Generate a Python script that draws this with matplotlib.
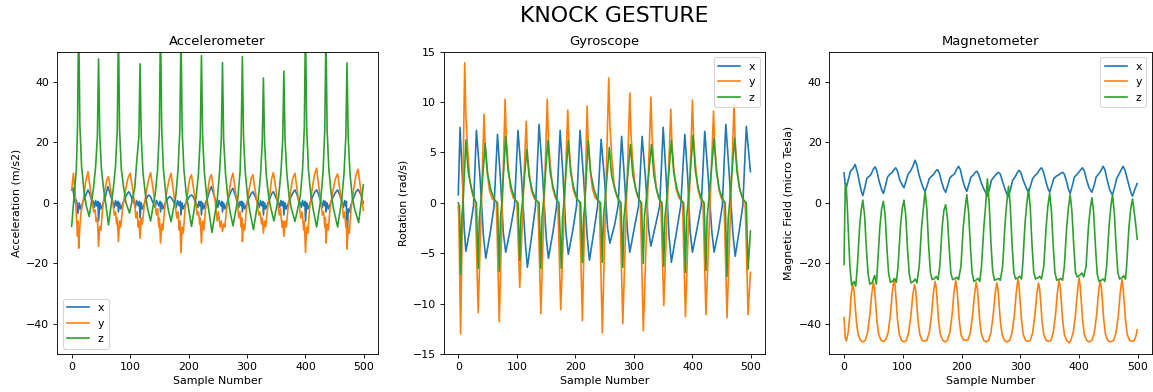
import matplotlib
matplotlib.use('Agg')
import matplotlib.pyplot as plt

# ---------------- Accelerometer (m/s2) ----------------
acc_x_s = [0, 2, 4, 6, 8, 10, 11, 13, 15, 18, 22, 25,
           28, 31, 34, 37, 39, 41, 43, 45, 46, 48, 50, 53, 57, 60,
           62, 65, 68, 71, 73, 75, 77, 79, 80, 82, 84, 87, 91, 95,
           98, 101, 104, 107, 109, 111, 114, 116, 117, 119, 121, 124, 127, 130,
           132, 135, 138, 141, 143, 145, 149, 151, 152, 154, 156, 159, 163, 166,
           168, 171, 174, 177, 179, 181, 184, 186, 187, 189, 191, 194, 198, 202,
           205, 208, 211, 214, 216, 218, 219, 221, 222, 224, 226, 229, 233, 236,
           239, 242, 245, 248, 250, 252, 255, 257, 258, 260, 262, 265, 269, 273,
           276, 279, 282, 284, 286, 288, 290, 291, 292, 294, 296, 299, 303, 307,
           310, 313, 316, 319, 321, 323, 325, 327, 328, 330, 332, 335, 339, 342,
           345, 348, 351, 354, 356, 358, 360, 362, 363, 365, 367, 370, 374, 378,
           382, 385, 388, 391, 393, 395, 397, 399, 400, 402, 404, 407, 411, 415,
           419, 422, 425, 427, 429, 431, 433, 434, 435, 437, 439, 442, 446, 451,
           455, 458, 461, 463, 465, 467, 469, 470, 471, 473, 475, 478, 482, 486,
           490, 494, 499]
acc_x_v = [4.3, 5, 2, 0, 1, -1, -3.4, 0, -2, -0.5, 1.5, 3,
           4.3, 3, 1, 0.5, -1.5, 0.8, -1, 0.5, -6, 0, -2, -0.5, 1.5, 4,
           5.4, 3.5, 1.5, 0, -1.5, 0.8, -1, 0.5, -3, 0, -2, -0.5, 1.5, 3,
           3.7, 2.5, 1, 0, -1.5, 0.8, -1, 0.5, -5, 0, -2, -0.5, 1, 2.2,
           2.6, 2, 0.5, -0.5, -1.5, 0.8, -1, 0.5, -3, 0, -2, -0.5, 1, 1.8,
           2.1, 1.5, 0.5, -0.5, -1.5, 0.8, -1, 0.5, -4, 0, -2, -0.5, 1, 2.2,
           2.6, 2, 0.5, -0.5, -1.5, 0.5, -1, 0.5, -4, 0, -2, 0, 2, 4,
           5.4, 3.5, 1.5, 0, -1.5, 0.8, -1, 0.5, -3, 0, -2, -0.5, 2, 4,
           4.8, 3, 1, 0, -1.5, 0.5, -1, 0.5, -3, 0, -2, -0.5, 1.5, 3,
           3.7, 2.5, 1, 0, -1.5, 0.8, -1, 0.5, -4, 0, -2, -0.5, 1.5, 3,
           3.7, 2.5, 1, 0, -1.5, 0.8, -1, 0.5, -4, 0, -2, -0.5, 1.5, 3.2,
           4.3, 3, 1, 0, -1.5, 0.8, -1, 0.5, -6, 0, -2, -0.5, 1.5, 3.3,
           4.3, 3, 1, 0, -1.5, 0.8, -1, 0.5, -3, 0, -2, -0.5, 1.5, 3.3,
           4.3, 3, 1, 0, -1.5, 0.8, -1, 0.5, -15, -2, -3, -0.5, 1.5, 3.5,
           4.5, 3, 0]

acc_y_s = [0, 3, 6, 8, 10, 11, 12, 14, 16, 20, 24,
           28, 32, 36, 38, 40, 42, 44, 46, 48, 50, 53, 57, 60,
           63, 67, 71, 73, 75, 77, 78, 80, 82, 84, 87, 91, 96,
           100, 104, 108, 110, 112, 114, 115, 117, 119, 121, 124, 128, 132,
           135, 139, 143, 145, 147, 149, 150, 152, 154, 156, 159, 163, 167,
           170, 174, 178, 180, 182, 184, 185, 187, 189, 191, 194, 198, 202,
           205, 209, 213, 215, 217, 219, 220, 222, 224, 226, 229, 233, 236,
           239, 243, 247, 249, 251, 254, 256, 258, 260, 262, 265, 269, 273,
           276, 280, 284, 286, 288, 290, 291, 292, 294, 296, 299, 303, 307,
           310, 314, 318, 320, 322, 325, 326, 328, 330, 332, 335, 339, 342,
           345, 349, 353, 355, 357, 360, 361, 363, 365, 367, 370, 374, 378,
           382, 386, 390, 392, 394, 397, 398, 400, 402, 404, 407, 411, 415,
           419, 423, 427, 429, 431, 433, 434, 435, 437, 439, 442, 446, 451,
           455, 459, 463, 465, 467, 469, 470, 471, 473, 475, 478, 482, 486,
           490, 494, 499]
acc_y_v = [4.3, 9.8, 3, -4, -11, -6, -15, -8, -3, 1, 7,
           10.3, 4.3, -1, -3, -2.3, -6.2, -5, -14.4, -7.8, -9, -2, 4.3, 7.5,
           8.7, 4, -1, -4, -3, -7, -5, -12.8, -6, -8, -2, 3, 8,
           9.8, 5, -1, -5, -3, -8, -6, -11.7, -5, -7, -1, 4, 8,
           10, 5, -1, -4, -2, -8, -5, -13.3, -7, -9, -2, 4, 8,
           9.8, 4, -2, -5, -3, -9, -6, -16.6, -8, -10, -2, 3, 8,
           9.3, 4, -1, -4, -3, -7, -5, -13.3, -6, -9, -2, 4, 8,
           9.3, 4, -2, -6, -3, -8, -6, -9.5, -7, -8, -2, 3, 8,
           9.8, 4, -1, -5, -3, -8, -5, -12.8, -7, -9, -2, 4, 8,
           9.3, 4, -1, -4, -3, -7, -5, -10, -6, -8, -2, 3, 8,
           10, 5, -1, -4, -2, -8, -6, -11.1, -6, -8, -2, 3, 8,
           9.8, 4, -2, -5, -3, -9, -6, -16.4, -8, -10, -2, 4, 9,
           11.5, 5, -1, -4, -3, -8, -5, -13.3, -7, -9, -2, 3, 8,
           9.6, 4, -1, -5, -3, -8, -6, -15.3, -8, -10, -2, 4, 9,
           11.1, 5, -2.5]

acc_z_s = [0, 4, 8, 10, 12, 14, 17, 21, 25, 30,
           37, 41, 44, 46, 48, 51, 55, 59, 63,
           71, 75, 78, 80, 82, 85, 89, 93, 99,
           108, 111, 115, 117, 119, 122, 126, 130, 135,
           143, 147, 150, 152, 154, 157, 161, 165, 170,
           178, 182, 185, 187, 189, 192, 196, 200, 205,
           213, 217, 220, 222, 224, 227, 231, 235, 240,
           249, 253, 256, 258, 260, 263, 267, 271, 276,
           284, 288, 290, 292, 294, 297, 301, 305, 311,
           319, 323, 326, 328, 330, 333, 337, 341, 346,
           354, 358, 361, 363, 365, 368, 372, 376, 382,
           391, 395, 398, 400, 402, 405, 409, 413, 419,
           426, 430, 433, 435, 437, 440, 444, 448, 455,
           462, 466, 469, 471, 473, 476, 480, 484, 491, 499]
acc_z_v = [-7.8, 2, 11, 25, 62, 26, 12, 4, -1, -4.5,
           4.3, 12, 22, 47.6, 23, 11, 4, -1.2, -7.3,
           4.3, 12, 24, 58, 24, 11, 5, 0, -3.4,
           5, 13, 22, 46, 22, 10, 3, -2, -6,
           3, 11, 24, 60, 25, 11, 3, -2, -6.2,
           2, 11, 24, 56, 24, 11, 3, -2, -7.8,
           2, 10, 22, 48.7, 22, 10, 2, -3, -9.8,
           1, 10, 21, 46.4, 21, 10, 2, -3, -7.6,
           1, 10, 22, 48.4, 22, 10, 2, -3, -8.9,
           1, 9, 20, 41.3, 20, 9, 2, -2, -6,
           2, 10, 21, 43.6, 21, 10, 2, -2, -6.2,
           2, 11, 25, 60, 25, 11, 3, -2, -8,
           1, 10, 24, 57, 24, 11, 3, -2, -8,
           1, 10, 22, 46.3, 22, 10, 2, -2, -6.5, 6]

# ---------------- Gyroscope (rad/s) ----------------
gyr_x_s = [0, 3, 7, 10, 13,
           20, 26, 31, 37, 43, 47,
           55, 61, 67, 72, 77, 81,
           89, 96, 102, 108, 114, 118,
           126, 132, 138, 144, 150, 154,
           162, 168, 174, 179, 184, 188,
           196, 202, 208, 214, 220, 224,
           232, 238, 244, 250, 255, 259,
           267, 273, 279, 284, 289, 293,
           301, 308, 314, 320, 325, 329,
           337, 344, 350, 355, 360, 364,
           373, 380, 387, 392, 396, 400,
           408, 415, 421, 427, 433, 437,
           445, 451, 457, 463, 469, 473,
           480, 486, 492, 499]
gyr_x_v = [0.8, 7.5, 2.5, -2.5, -4.8,
           -2.6, -0.3, 7.2, 2.6, -3.3, -5.5,
           -2.8, -0.4, 6.8, 2.4, -3, -4.9,
           -2.6, -0.3, 7.2, 2.5, -3.5, -6.4,
           -3, -0.3, 7.8, 2.7, -3.3, -5.5,
           -2.8, -0.3, 7.2, 2.5, -3, -5.1,
           -2.6, -0.3, 7.2, 2.5, -3.2, -5.7,
           -2.7, -0.3, 6.3, 2.2, -2.5, -4,
           -2.2, -0.3, 6.6, 2.3, -2.8, -4.9,
           -2.4, -0.3, 6.6, 2.3, -2.6, -4.3,
           -2.2, -0.3, 7.5, 2.6, -3.3, -5.9,
           -2.8, -0.3, 6.8, 2.4, -2.8, -4.9,
           -2.5, -0.3, 7.1, 2.5, -2.8, -4.9,
           -2.6, -0.3, 7.8, 2.7, -3, -5.3,
           -2.7, -0.3, 7.6, 3.1]

gyr_y_s = [0, 1, 4,
           11, 13, 16, 20, 25, 29, 34,
           44, 46, 49, 53, 58, 65, 70,
           80, 82, 85, 89, 94, 100, 105,
           116, 118, 121, 125, 130, 136, 141,
           152, 154, 157, 161, 166, 170, 175,
           187, 189, 192, 196, 201, 207, 212,
           220, 222, 225, 229, 234, 241, 246,
           257, 259, 262, 266, 271, 276, 281,
           293, 295, 298, 302, 307, 311, 316,
           329, 331, 334, 338, 342, 346, 351,
           363, 365, 368, 372, 377, 383, 388,
           400, 402, 405, 409, 413, 418, 423,
           436, 438, 441, 445, 449, 454, 459,
           471, 473, 476, 480, 485, 490, 495,
           499]
gyr_y_v = [-0.3, -1.5, -13,
           13.9, 8.6, 5.3, 2.1, 0.7, 0.2, -10.9,
           8.8, 5.5, 3.3, 1.3, 0.4, 0.1, -11.8,
           10.3, 6.4, 3.9, 1.5, 0.5, 0.1, -8.4,
           8.1, 5, 3.1, 1.2, 0.4, 0.1, -11,
           10.3, 6.4, 3.9, 1.5, 0.5, 0.1, -10.6,
           9.2, 5.7, 3.5, 1.4, 0.5, 0.1, -11.7,
           9.6, 6, 3.6, 1.4, 0.5, 0.1, -12.9,
           12.4, 7.7, 4.7, 1.9, 0.6, 0.1, -12,
           10.9, 6.8, 4.1, 1.6, 0.5, 0.1, -12.7,
           10.5, 6.5, 4, 1.6, 0.5, 0.1, -10.2,
           9.3, 5.8, 3.5, 1.4, 0.5, 0.1, -11.3,
           10.2, 6.3, 3.9, 1.5, 0.5, 0.1, -11.1,
           9.1, 5.6, 3.5, 1.4, 0.5, 0.1, -11.4,
           9.8, 6.1, 3.7, 1.5, 0.5, 0.1, -11.1,
           -6.9]

gyr_z_s = [0, 2, 4, 6, 8, 13, 17, 23, 28, 31,
           34, 36, 38, 46, 50, 56, 62, 67,
           70, 72, 74, 81, 85, 91, 97, 102,
           105, 107, 109, 117, 121, 127, 133, 138,
           141, 143, 145, 153, 157, 163, 168, 172,
           176, 178, 180, 188, 192, 198, 204, 209,
           212, 214, 216, 222, 226, 232, 238, 243,
           246, 248, 250, 258, 262, 268, 274, 278,
           281, 283, 285, 294, 298, 304, 309, 313,
           316, 318, 320, 330, 334, 339, 344, 348,
           351, 353, 355, 364, 368, 374, 380, 385,
           388, 390, 392, 401, 405, 410, 416, 420,
           423, 425, 427, 437, 441, 446, 452, 456,
           459, 461, 463, 472, 476, 481, 487, 492,
           495, 499]
gyr_z_v = [0, -0.3, -7.1, -1.5, -0.3, 6.25, 3, 1.3, 0.3, 0,
           -6.5, -1.5, -0.3, 5.9, 2.9, 1.2, 0.3, 0,
           -6.8, -1.5, -0.3, 6.6, 3.2, 1.4, 0.3, 0,
           -5.7, -1.3, -0.3, 5.3, 2.6, 1.1, 0.3, 0,
           -6.5, -1.5, -0.3, 6.2, 3, 1.3, 0.3, 0,
           -6.5, -1.5, -0.3, 6.2, 3, 1.3, 0.3, 0,
           -5.9, -1.4, -0.3, 6.2, 3, 1.3, 0.3, 0,
           -5.9, -1.4, -0.3, 5.5, 2.7, 1.2, 0.3, 0,
           -6.4, -1.5, -0.3, 5.8, 2.8, 1.2, 0.3, 0,
           -6, -1.4, -0.3, 5.8, 2.8, 1.2, 0.3, 0,
           -6.3, -1.5, -0.3, 6.2, 3, 1.3, 0.3, 0,
           -6.9, -1.5, -0.3, 6.7, 3.2, 1.4, 0.3, 0,
           -6.7, -1.5, -0.3, 6.4, 3.1, 1.3, 0.3, 0,
           -7.3, -1.6, -0.3, 6.4, 3.1, 1.3, 0.3, 0,
           -6.6, -2.8]

# ---------------- Magnetometer (micro Tesla) ----------------
mag_x_s = [0, 3, 6, 9, 11, 15, 19, 23, 27, 30, 32,
           36, 39, 43, 46, 50, 53, 56, 60, 64, 67,
           71, 74, 78, 82, 85, 88, 91, 95, 99, 102,
           106, 109, 113, 117, 121, 124, 128, 132, 135, 138,
           142, 145, 149, 153, 156, 159, 162, 166, 170, 173,
           177, 180, 184, 188, 192, 195, 198, 202, 206, 209,
           213, 216, 220, 223, 226, 229, 233, 237, 241, 244,
           248, 251, 255, 259, 263, 266, 270, 274, 277, 280,
           284, 287, 291, 295, 298, 301, 305, 309, 312, 314,
           318, 321, 325, 329, 333, 336, 339, 343, 347, 350,
           354, 357, 361, 365, 369, 372, 375, 379, 382, 385,
           389, 392, 396, 400, 403, 406, 409, 413, 417, 422,
           426, 429, 433, 437, 441, 444, 448, 452, 455, 457,
           461, 464, 468, 472, 475, 478, 482, 486, 489, 491,
           495, 499]
mag_x_v = [9.9, 4.4, 6.6, 9, 10.5, 11.3, 12.7, 9.9, 6, 3.5, 2.4,
           5.5, 8.2, 8.8, 9.4, 11.2, 11.9, 10.5, 7, 4.4, 3.1,
           6, 8.5, 9.5, 10, 11, 11.6, 10.5, 7.5, 6, 5,
           7.5, 9.5, 10.5, 12, 14.1, 12.5, 9, 6.5, 4.8, 3.8,
           6, 8, 8.8, 9.5, 10.5, 11, 10, 7, 4.5, 3.5,
           6, 8.2, 9, 9.6, 11.2, 12.1, 11, 7.5, 5, 3.8,
           6.5, 8.5, 9.2, 10, 10.5, 9.5, 7, 5, 3.5, 2.2,
           5, 7.5, 8.5, 9.5, 10.1, 9.5, 7, 4.5, 3, 2,
           5, 7.5, 8.5, 10, 10.8, 10, 7.5, 5.5, 4.2, 3.5,
           6, 8, 9, 9.7, 11, 11.6, 10.5, 7.5, 4.8, 3.5,
           6, 8, 8.8, 9.2, 9.8, 10.1, 9.5, 7, 4.5, 3.1,
           6, 8.5, 9.3, 10.2, 11, 11.6, 10.5, 7.5, 5, 3.5,
           6, 8.5, 9.5, 10.5, 12.1, 11, 7.5, 4.5, 3.2, 2.7,
           5.5, 8, 9.5, 11, 12.1, 11, 8, 5, 3, 2.2,
           4.5, 6.4]

mag_y_s = [0, 2, 4, 7, 10, 12, 15, 17, 19, 21, 24, 28, 32,
           36, 40, 44, 47, 50, 52, 54, 56, 59, 63, 67,
           71, 75, 79, 82, 85, 87, 89, 91, 94, 98, 102,
           106, 110, 114, 117, 120, 122, 124, 126, 129, 133, 137,
           141, 145, 149, 152, 155, 157, 159, 161, 164, 168, 172,
           176, 180, 184, 187, 190, 192, 194, 196, 199, 203, 207,
           211, 215, 219, 222, 225, 227, 229, 231, 234, 238, 242,
           246, 250, 254, 257, 260, 262, 264, 266, 269, 273, 277,
           282, 286, 290, 293, 296, 298, 300, 302, 305, 309, 313,
           317, 321, 325, 328, 331, 333, 335, 337, 340, 344, 348,
           352, 356, 360, 363, 366, 368, 370, 372, 375, 379, 383,
           386, 390, 394, 397, 400, 402, 404, 406, 409, 413, 417,
           422, 426, 430, 433, 436, 438, 440, 442, 445, 449, 453,
           459, 463, 467, 470, 473, 475, 477, 479, 482, 486, 490,
           494, 497, 499]
mag_y_v = [-38, -44.5, -45.7, -43, -37, -30.5, -27, -29, -34, -39, -43.5, -45.5, -46,
           -45.5, -43, -37, -30.5, -26.3, -28.5, -33.5, -39, -43.5, -45.5, -45.8,
           -45.3, -43, -37, -30, -25.2, -27.5, -33, -38.5, -43.5, -45.5, -46,
           -45.5, -43, -37, -30.5, -27, -29, -34, -39, -43.5, -45.5, -45.7,
           -45.5, -43, -37, -30, -26, -28, -33.5, -39, -43.5, -45.5, -46,
           -45.5, -43, -37, -30, -25.6, -28, -33, -38.5, -43.5, -45.3, -45.5,
           -45.3, -43, -37, -30.5, -26.3, -28.5, -33.5, -39, -43.5, -45.5, -46,
           -45.5, -43, -37, -30.5, -26.5, -28.5, -33.5, -39, -43.5, -45.5, -46,
           -45.5, -43, -37, -30, -25.2, -27.5, -33, -38.5, -43.5, -45.5, -45.8,
           -45.5, -43, -37, -30.5, -26.5, -28.5, -33.5, -39, -43.5, -45.5, -45.8,
           -45.5, -43, -37, -30, -25.6, -28, -33, -38.5, -43.5, -45.5, -46.3,
           -45.5, -43, -37, -30, -24.8, -27.5, -33, -38.5, -43.5, -45.5, -46,
           -45.5, -43, -37, -30, -25.6, -28, -33, -38.5, -43.5, -45.5, -46,
           -45.5, -43, -37, -30, -25.4, -28, -33, -38.5, -43.5, -45.5, -45.8,
           -45.5, -44, -42]

mag_z_s = [0, 2, 3.5, 5.5, 8, 10, 13, 17, 20, 23, 27, 30,
           32, 35, 38, 41, 44, 48, 52, 55, 57, 61, 64,
           67, 70, 73, 76, 79, 83, 86, 89, 92, 96, 99,
           102, 105, 108, 111, 114, 118, 121, 124, 128, 132, 135,
           138, 141, 144, 147, 150, 154, 157, 160, 163, 167, 170,
           173, 176, 179, 182, 185, 189, 192, 195, 199, 203, 206,
           209, 212, 215, 218, 221, 225, 228, 231, 234, 238, 241,
           244, 247, 250, 253, 256, 260, 263, 266, 270, 274, 277,
           280, 283, 286, 289, 292, 296, 299, 302, 304, 308, 311,
           314, 317, 320, 323, 326, 330, 333, 336, 340, 344, 347,
           350, 353, 356, 359, 362, 366, 369, 372, 375, 379, 382,
           385, 388, 391, 394, 397, 401, 405, 408, 412, 416, 419,
           422, 425, 428, 431, 434, 438, 441, 444, 447, 451, 454,
           457, 460, 463, 466, 469, 473, 476, 479, 481, 485, 488,
           491, 494, 497, 499]
mag_z_v = [-20.4, 4.4, 6.4, -1, -12, -21, -27.3, -26, -27.6, -20, -6.6, -1.5,
           0.9, -4, -15, -23.5, -26.9, -26.4, -24, -26.9, -21, -8, -2,
           0.5, -4, -15, -23.5, -26.3, -25.8, -25, -26.3, -21, -8, -2,
           0.9, -4, -15, -23.5, -26.5, -26, -25.2, -26.5, -21, -8, -2,
           3.8, -2, -14, -23, -25.4, -25, -24.3, -25.4, -21, -8, -2.5,
           -0.6, -5, -15, -23.5, -25.4, -25, -24.6, -25.4, -21, -8, -2,
           2.7, -3, -14, -23, -26, -25.5, -25, -26, -21, -8, -1,
           7.9, 0, -13, -22.5, -25.6, -25.3, -25, -25.6, -21, -7, 0,
           5.5, -1, -13.5, -23, -25.2, -24.8, -24.3, -25.2, -21, -7, -0.5,
           4.6, -1.5, -14, -23, -25.2, -24.8, -24.3, -25.2, -21, -8, -1,
           3.1, -2.5, -14, -23, -25.6, -25.3, -25, -25.6, -21, -8, -1.5,
           2.7, -3, -14, -23, -24.5, -24, -23.2, -24.5, -21, -8, -2,
           1.7, -3.5, -14.5, -23.5, -26, -25.6, -25.2, -26, -21, -8, -1.5,
           2.7, -3, -14, -23, -25.2, -24.8, -24.1, -25.2, -21, -8, -2,
           1.3, -3, -8, -12]

fig = plt.figure(figsize=(1153 / 79, 392 / 79), dpi=79)
ax1 = fig.add_axes([0.0495, 0.0969, 0.2783, 0.7712])
ax2 = fig.add_axes([0.3848, 0.0969, 0.2787, 0.7712])
ax3 = fig.add_axes([0.7193, 0.0969, 0.2797, 0.7712])

# accelerometer
ax1.plot(acc_x_s, acc_x_v, label='x')
ax1.plot(acc_y_s, acc_y_v, label='y')
ax1.plot(acc_z_s, acc_z_v, label='z')
ax1.set_ylim(-50, 50)
ax1.set_title('Accelerometer')
ax1.set_xlabel('Sample Number')
ax1.set_ylabel('Acceleration (m/s2)')
ax1.legend(loc='lower left')

# gyroscope
ax2.plot(gyr_x_s, gyr_x_v, label='x')
ax2.plot(gyr_y_s, gyr_y_v, label='y')
ax2.plot(gyr_z_s, gyr_z_v, label='z')
ax2.set_ylim(-15, 15)
ax2.set_title('Gyroscope')
ax2.set_xlabel('Sample Number')
ax2.set_ylabel('Rotation (rad/s)')
ax2.legend(loc='upper right')

# magnetometer
ax3.plot(mag_x_s, mag_x_v, label='x')
ax3.plot(mag_y_s, mag_y_v, label='y')
ax3.plot(mag_z_s, mag_z_v, label='z')
ax3.set_ylim(-50, 50)
ax3.set_title('Magnetometer')
ax3.set_xlabel('Sample Number')
ax3.set_ylabel('Magnetic Field (micro Tesla)')
ax3.legend(loc='upper right')

for ax in (ax1, ax2, ax3):
    ax.set_xlim(-24.95, 523.95)

fig.suptitle('KNOCK GESTURE', fontsize=20, x=0.533, y=0.985)
fig.savefig('out.png', dpi=79)
